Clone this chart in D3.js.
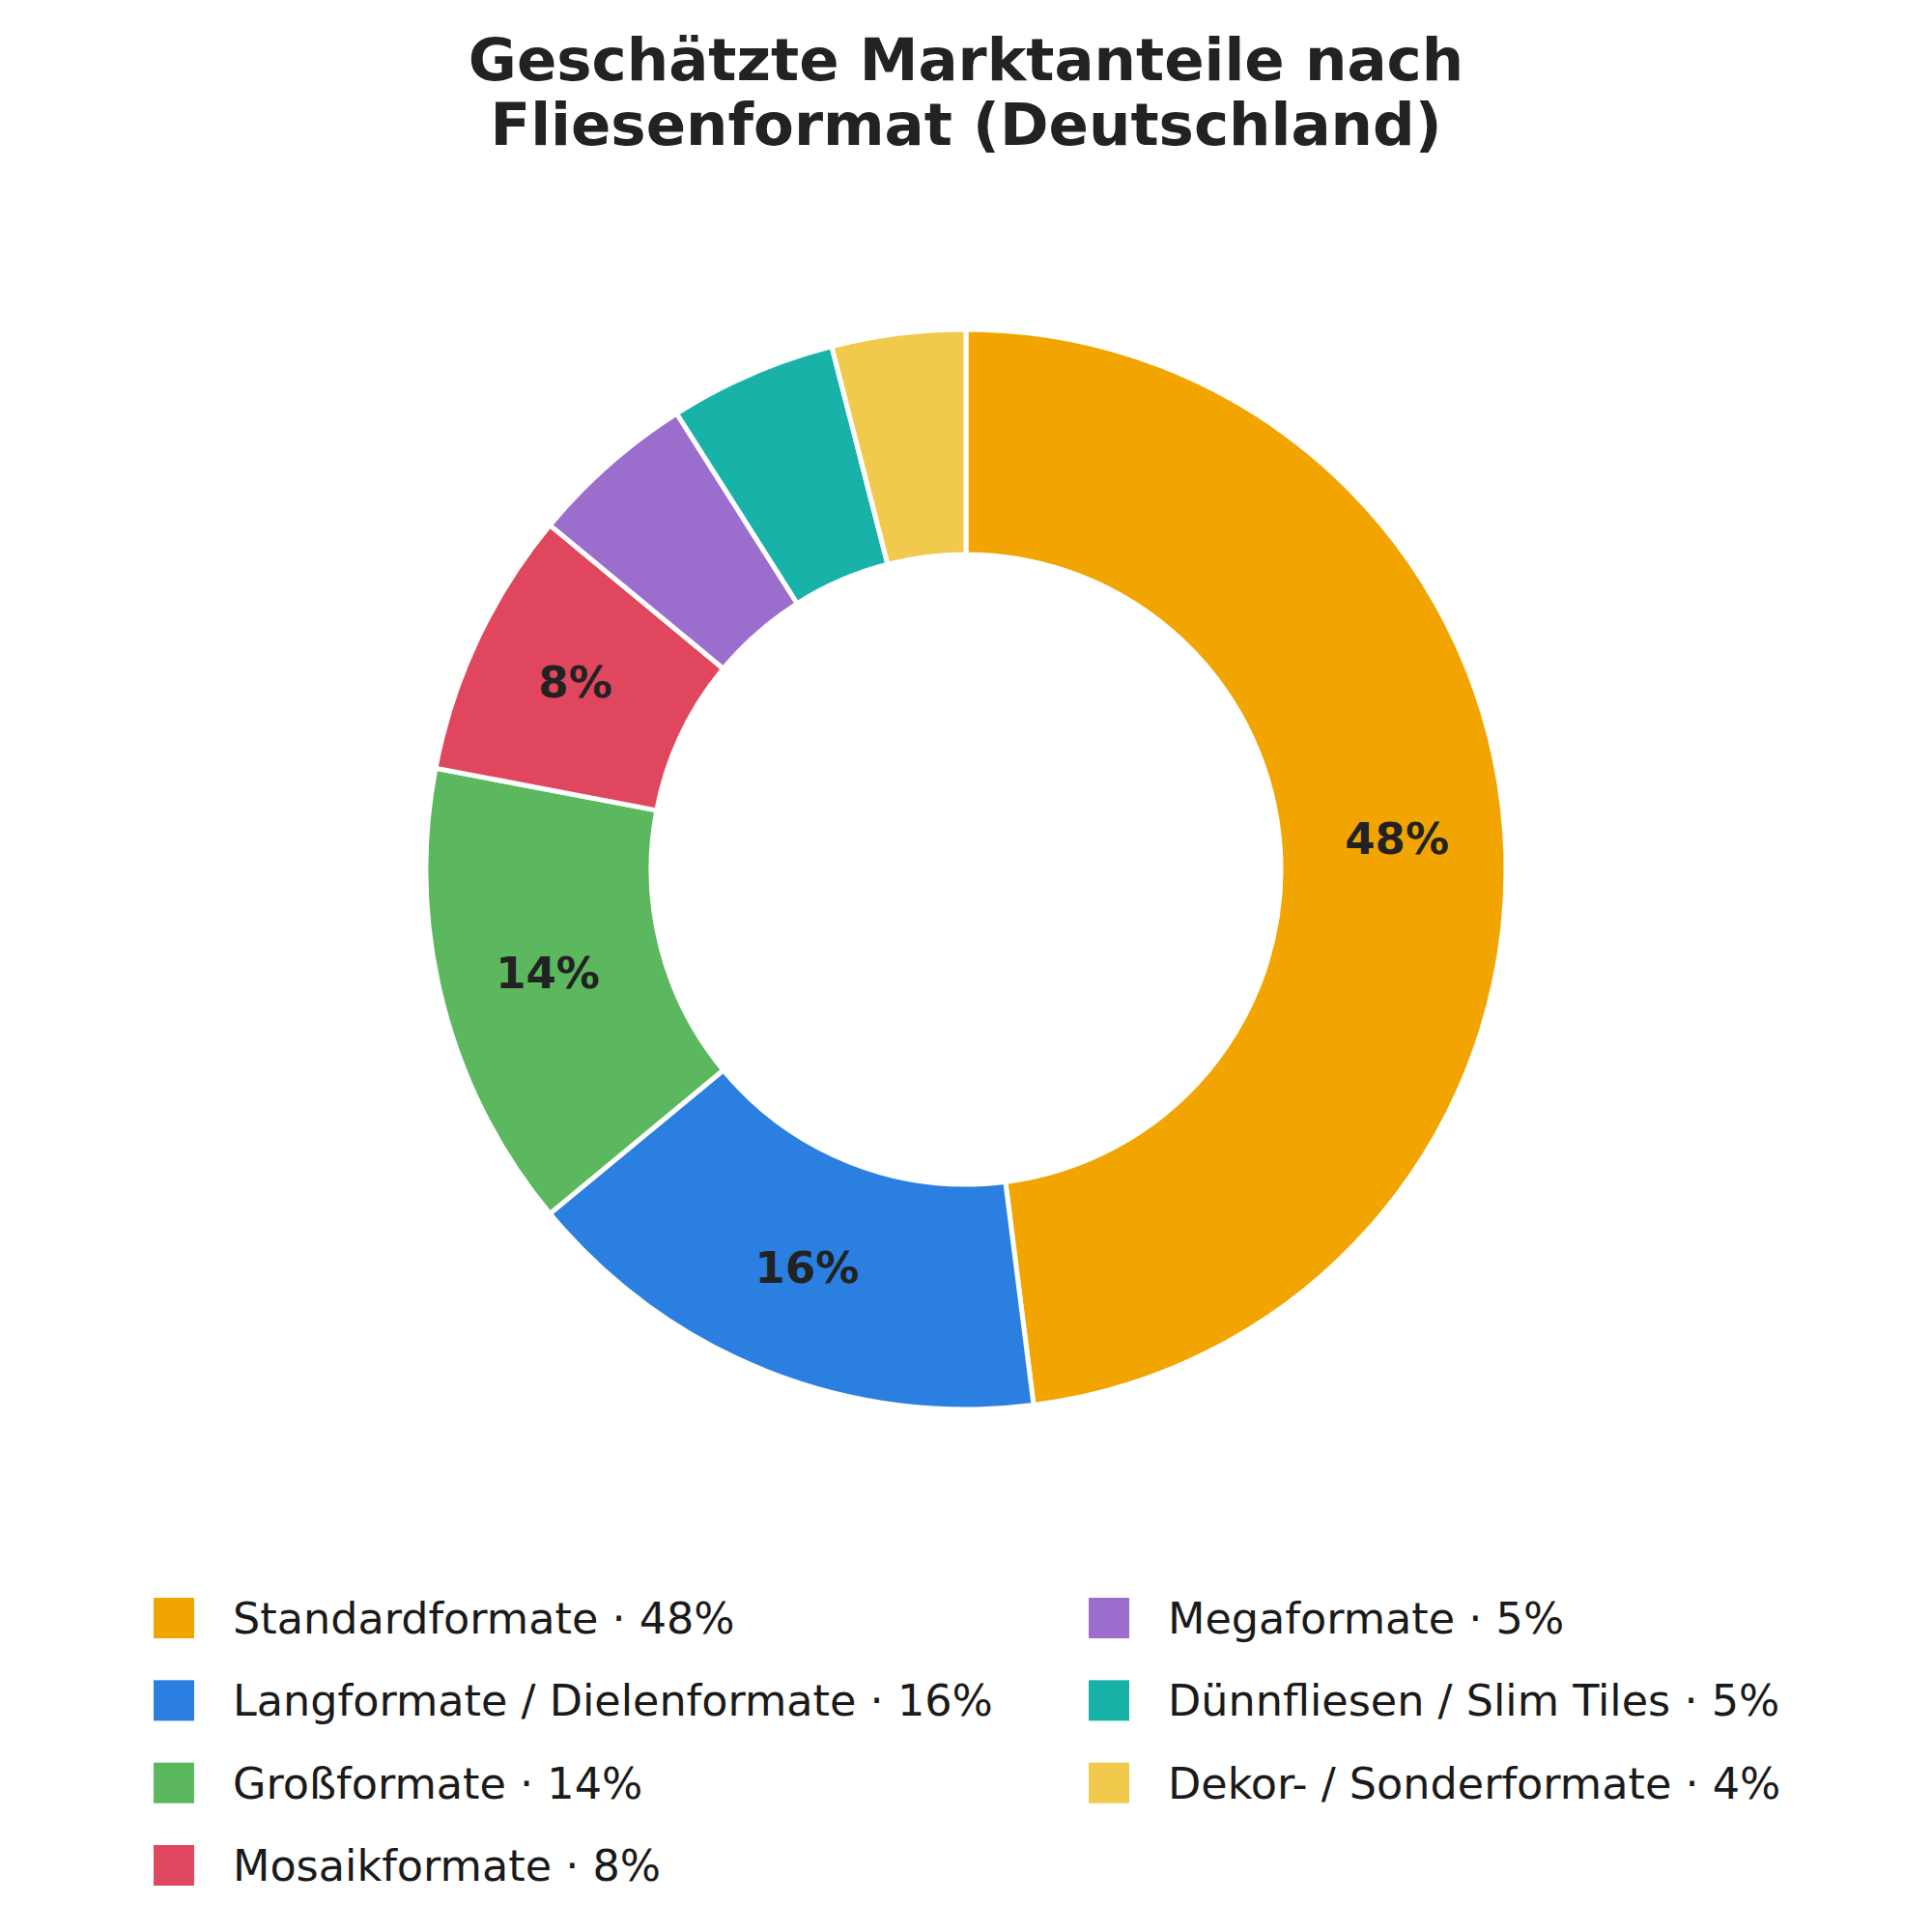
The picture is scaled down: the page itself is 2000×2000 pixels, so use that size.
<!DOCTYPE html>
<html lang="de">
	<head>
		<meta charset="utf-8">
		<title>Marktanteile Fliesenformate</title>
		<script type="text/javascript" src="https://d3js.org/d3.v7.min.js"></script>
		<style type="text/css">
		body{
                margin:0;
                background:#ffffff;
                }
		text{
                font-family:"DejaVu Sans", sans-serif;
                }
		</style>
	</head>
	<body>
        <div id="chart"></div>

	<script type="text/javascript">

    // data
    var categories = ["Standardformate", "Langformate / Dielenformate", "Großformate", "Mosaikformate",
                      "Megaformate", "Dünnfliesen / Slim Tiles", "Dekor- / Sonderformate"]
    var shares = [48, 16, 14, 8, 5, 5, 4]
    var colors = ["#F2A500", "#2B7FE1", "#5CB85F", "#E0475F", "#9B6ECD", "#19B2A8", "#F1C94D"]
    var titleLines = ["Geschätzte Marktanteile nach", "Fliesenformat (Deutschland)"]
    var labelMin = 8   // smaller slices get no inside label

    var w = 2000
    var h = 2000
    var cx = 1000
    var cy = 900
    var outerR = 559
    var innerR = 326
    var labelR = 447

    var svg = d3.select("#chart")
        .append("svg")
        .attr("width", w)
        .attr("height", h)

    //title
    svg.selectAll(".title")
        .data(titleLines)
        .enter()
        .append("text")
        .attr("class", "title")
        .attr("x", w / 2)
        .attr("y", function(d, i){ return 83 + i * 67 })
        .attr("text-anchor", "middle")
        .style("font-size", "61px")
        .style("font-weight", "bold")
        .style("fill", "#222222")
        .text(function(d){ return d })

    var data = categories.map(function(c, i){
        return {name: c, value: shares[i], color: colors[i]}
    })

    var pie = d3.pie()
        .sort(null)
        .value(function(d){ return d.value })

    var arc = d3.arc()
        .innerRadius(innerR)
        .outerRadius(outerR)

    //thin arc only used to place the percent labels
    var labelArc = d3.arc()
        .innerRadius(labelR)
        .outerRadius(labelR)

    var g = svg.append("g")
        .attr("transform", "translate(" + cx + "," + cy + ")")

    g.selectAll("path")
        .data(pie(data))
        .enter()
        .append("path")
        .attr("d", arc)
        .style("fill", function(d){ return d.data.color })
        .style("stroke", "#ffffff")
        .style("stroke-width", 5)
        .style("stroke-linejoin", "miter")

    g.selectAll(".slice-label")
        .data(pie(data).filter(function(d){ return d.data.value >= labelMin }))
        .enter()
        .append("text")
        .attr("class", "slice-label")
        .attr("transform", function(d){ return "translate(" + labelArc.centroid(d) + ")" })
        .attr("text-anchor", "middle")
        .attr("dy", "0.27em")
        .style("font-size", "45px")
        .style("font-weight", "bold")
        .style("fill", "#222222")
        .text(function(d){ return d.data.value + "%" })

    //legend, filled column by column
    var perCol = 4
    var colX = d3.scaleOrdinal()
        .domain([0, 1])
        .range([159, 1127])
    var rowY = d3.scaleLinear()
        .domain([0, 3])
        .range([1675, 1931])
    var box = 42

    var legend = svg.selectAll(".legend")
        .data(data)
        .enter()
        .append("g")
        .attr("class", "legend")
        .attr("transform", function(d, i){
            return "translate(" + colX(Math.floor(i / perCol)) + "," + rowY(i % perCol) + ")"
        })

    legend.append("rect")
        .attr("x", 0)
        .attr("y", -box / 2)
        .attr("width", box)
        .attr("height", box)
        .style("fill", function(d){ return d.color })

    legend.append("text")
        .attr("x", 82)
        .attr("dy", "0.36em")
        .style("font-size", "44.5px")
        .style("fill", "#1a1a1a")
        .text(function(d){ return d.name + " · " + d.value + "%" })

		</script>
	</body>
</html>
